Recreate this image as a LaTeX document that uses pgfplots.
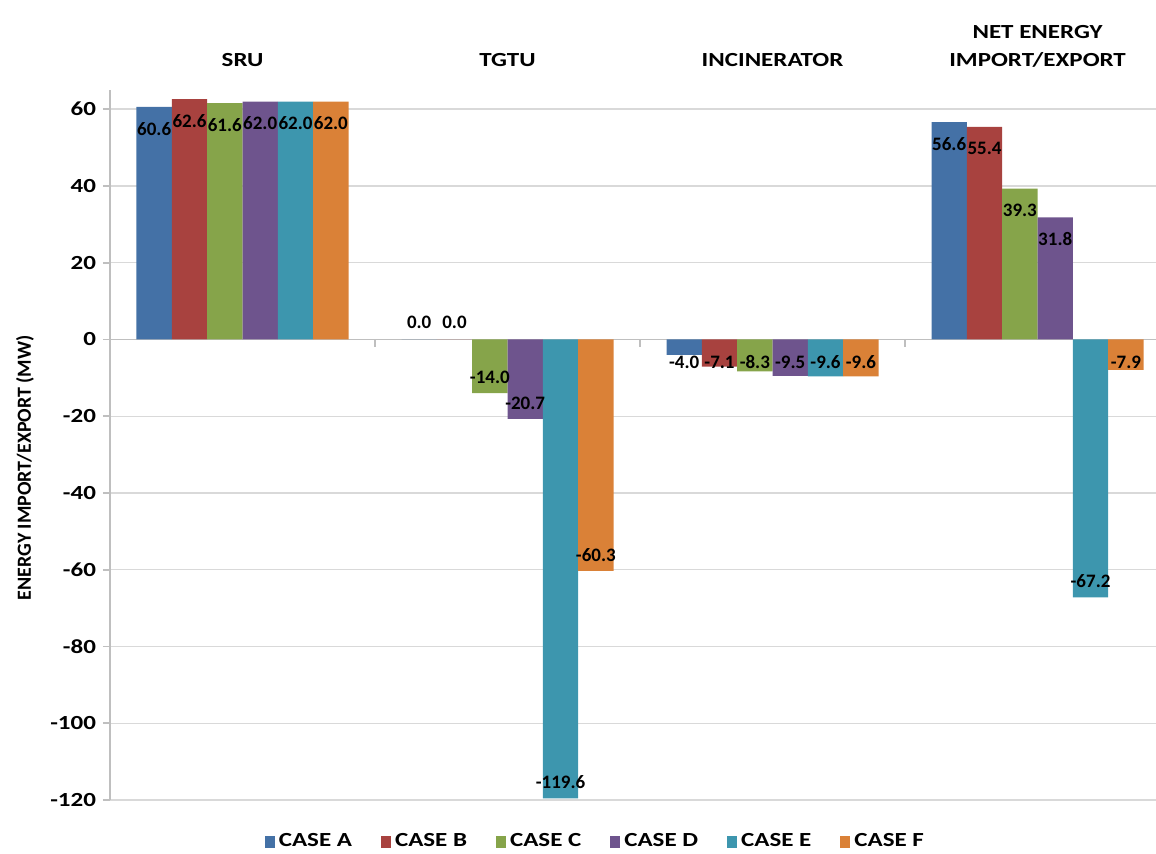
\documentclass[border=0pt]{standalone}
\usepackage{pgfplots}
\pgfplotsset{compat=1.18}
\usepackage{fontspec}
\setmainfont{Carlito}
\newfontfamily\widefont{Carlito}[FakeStretch=1.25]
\definecolor{cA}{HTML}{4471A6}
\definecolor{cB}{HTML}{A8423F}
\definecolor{cC}{HTML}{86A44A}
\definecolor{cD}{HTML}{6E548D}
\definecolor{cE}{HTML}{3D96AE}
\definecolor{cF}{HTML}{DA8137}
\definecolor{axisgray}{HTML}{BFBFBF}
\definecolor{gridgray}{HTML}{D9D9D9}
\pgfplotsset{sqleg/.style={legend image code/.code={\fill[##1] (0pt,-3pt) rectangle (5pt,3pt);}}}
\begin{document}
\begin{tikzpicture}
\useasboundingbox (-55pt,-26.5pt) rectangle (523pt,400pt);
\begin{axis}[
  at={(0,0)}, anchor=south west,
  scale only axis, width=523pt, height=355pt,
  xmin=-0.5, xmax=3.447, ymin=-120, ymax=65,
  ybar=0pt, bar width=17.67pt,
  axis x line*=top, axis y line*=left,
  x axis line style={draw=none},
  y axis line style={-, draw=axisgray, line width=0.9pt},
  xtick={0,1,2,3},
  xticklabels={SRU,TGTU,INCINERATOR,{NET ENERGY\\IMPORT/EXPORT}},
  x tick style={draw=none},
  xticklabel style={align=center, font=\widefont\bfseries\fontsize{10}{14}\selectfont, yshift=4.5pt},
  ytick={-120,-100,...,60},
  tick align=outside, major tick length=3.5pt,
  y tick style={draw=axisgray, line width=0.9pt},
  yticklabel style={font=\widefont\bfseries\fontsize{10}{13}\selectfont},
  /pgf/number format/assume math mode=true,
  ymajorgrids, grid style={draw=gridgray, line width=0.7pt},
  ylabel={ENERGY IMPORT/EXPORT (MW)},
  ylabel style={at={(axis description cs:-0.0813,0.468)}, anchor=center, font=\bfseries\fontsize{10}{13}\selectfont},
  nodes near coords={\pgfmathprintnumber[fixed,fixed zerofill,precision=1]{\pgfplotspointmeta}},
  visualization depends on={rawy \as \rawy},
  every node near coord/.append style={anchor=center, text=black, inner sep=0pt,
    font=\bfseries\fontsize{9.5}{11}\selectfont,
    yshift={ifthenelse(\rawy>0, max(11.5,1.919*(\rawy)-11)-1.919*(\rawy), ifthenelse(\rawy<0, 0-max(11.5,0-1.919*(\rawy)-8)-1.919*(\rawy), 8.5))}},
  legend columns=6,
  legend style={at={(0.465,-0.059)}, anchor=center, draw=none, fill=none,
    font=\widefont\bfseries\fontsize{10}{13}\selectfont,
    /tikz/every even column/.append style={column sep=12.5pt}},
]
\draw[axisgray, line width=0.9pt] (axis cs:-0.5,0) -- (axis cs:3.447,0);
\draw[axisgray, line width=0.9pt] (axis cs:0.5,0) -- ([yshift=-4pt]axis cs:0.5,0);
\draw[axisgray, line width=0.9pt] (axis cs:1.5,0) -- ([yshift=-4pt]axis cs:1.5,0);
\draw[axisgray, line width=0.9pt] (axis cs:2.5,0) -- ([yshift=-4pt]axis cs:2.5,0);
\addplot[fill=cA, draw=none, sqleg] coordinates {(0,60.6) (1,0.0) (2,-4.0) (3,56.6)};
\addplot[fill=cB, draw=none, sqleg] coordinates {(0,62.6) (1,0.0) (2,-7.1) (3,55.4)};
\addplot[fill=cC, draw=none, sqleg] coordinates {(0,61.6) (1,-14.0) (2,-8.3) (3,39.3)};
\addplot[fill=cD, draw=none, sqleg] coordinates {(0,62.0) (1,-20.7) (2,-9.5) (3,31.8)};
\addplot[fill=cE, draw=none, sqleg] coordinates {(0,62.0) (1,-119.6) (2,-9.6) (3,-67.2)};
\addplot[fill=cF, draw=none, sqleg] coordinates {(0,62.0) (1,-60.3) (2,-9.6) (3,-7.9)};
\legend{CASE A,CASE B,CASE C,CASE D,CASE E,CASE F}
\end{axis}
\end{tikzpicture}
\end{document}
